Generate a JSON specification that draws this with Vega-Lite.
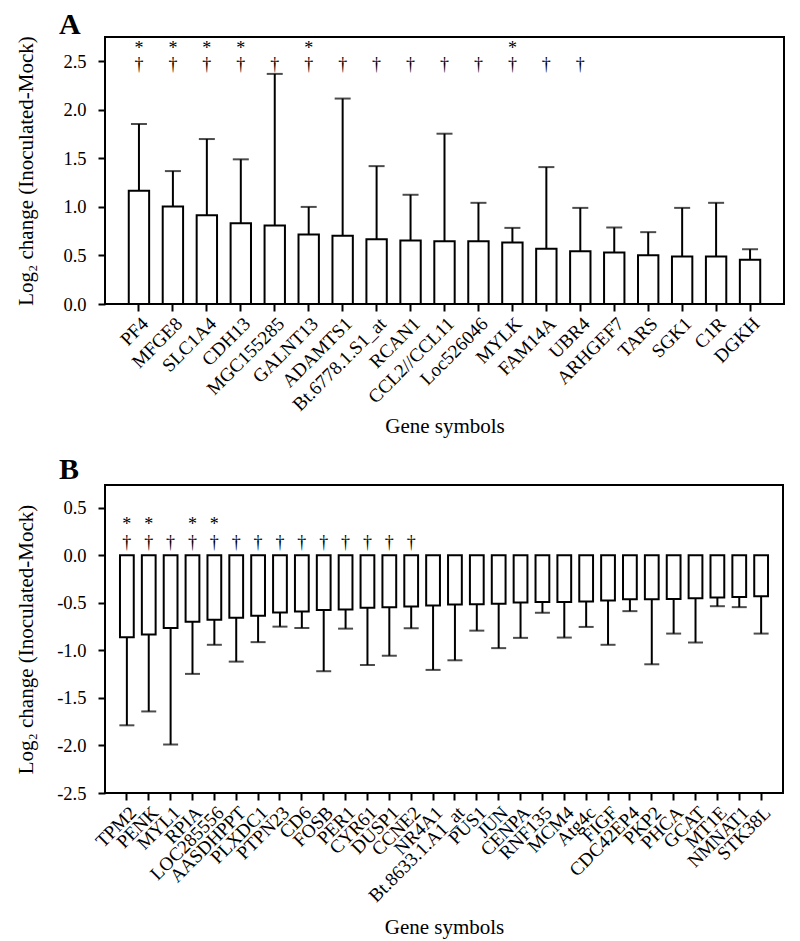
{
  "$schema": "https://vega.github.io/schema/vega-lite/v6.json",
  "background": "white",
  "padding": {"left": 14, "top": 8, "right": 5, "bottom": 5},
  "spacing": 16,
  "config": {
    "font": "Liberation Serif",
    "view": {"stroke": "black", "strokeWidth": 2},
    "axis": {"labelFont": "Liberation Serif", "titleFont": "Liberation Serif", "labelColor": "black", "titleColor": "black", "tickColor": "black", "domain": false, "grid": false, "labelFontSize": 18.5, "titleFontSize": 21, "titleFontWeight": "normal", "tickWidth": 2},
    "title": {"font": "Liberation Serif", "fontSize": 30, "fontWeight": "bold", "anchor": "start", "frame": "group", "color": "black"}
  },
  "datasets": {
    "a": [
      {"gene": "PF4", "value": 1.166, "err": 1.854, "star": true, "dagger": true},
      {"gene": "MFGE8", "value": 1.004, "err": 1.369, "star": true, "dagger": true},
      {"gene": "SLC1A4", "value": 0.915, "err": 1.699, "star": true, "dagger": true},
      {"gene": "CDH13", "value": 0.832, "err": 1.49, "star": true, "dagger": true},
      {"gene": "MGC155285", "value": 0.808, "err": 2.37, "star": false, "dagger": true},
      {"gene": "GALNT13", "value": 0.716, "err": 1.0, "star": true, "dagger": true},
      {"gene": "ADAMTS1", "value": 0.702, "err": 2.116, "star": false, "dagger": true},
      {"gene": "Bt.6778.1.S1_at", "value": 0.667, "err": 1.42, "star": false, "dagger": true},
      {"gene": "RCAN1", "value": 0.654, "err": 1.125, "star": false, "dagger": true},
      {"gene": "CCL2//CCL11", "value": 0.647, "err": 1.754, "star": false, "dagger": true},
      {"gene": "Loc526046", "value": 0.647, "err": 1.042, "star": false, "dagger": true},
      {"gene": "MYLK", "value": 0.633, "err": 0.784, "star": true, "dagger": true},
      {"gene": "FAM14A", "value": 0.568, "err": 1.41, "star": false, "dagger": true},
      {"gene": "UBR4", "value": 0.544, "err": 0.99, "star": false, "dagger": true},
      {"gene": "ARHGEF7", "value": 0.53, "err": 0.788, "star": false, "dagger": false},
      {"gene": "TARS", "value": 0.502, "err": 0.74, "star": false, "dagger": false},
      {"gene": "SGK1", "value": 0.488, "err": 0.99, "star": false, "dagger": false},
      {"gene": "C1R", "value": 0.488, "err": 1.042, "star": false, "dagger": false},
      {"gene": "DGKH", "value": 0.457, "err": 0.564, "star": false, "dagger": false}
    ],
    "b": [
      {"gene": "TPM2", "value": -0.861, "err": -1.788, "star": true, "dagger": true},
      {"gene": "PENK", "value": -0.833, "err": -1.642, "star": true, "dagger": true},
      {"gene": "MYL1", "value": -0.764, "err": -1.99, "star": false, "dagger": true},
      {"gene": "RPIA", "value": -0.698, "err": -1.247, "star": true, "dagger": true},
      {"gene": "LOC285556", "value": -0.677, "err": -0.941, "star": true, "dagger": true},
      {"gene": "AASDHPPT", "value": -0.656, "err": -1.118, "star": false, "dagger": true},
      {"gene": "PLXDC1", "value": -0.635, "err": -0.913, "star": false, "dagger": true},
      {"gene": "PTPN23", "value": -0.601, "err": -0.75, "star": false, "dagger": true},
      {"gene": "CD6", "value": -0.59, "err": -0.764, "star": false, "dagger": true},
      {"gene": "FOSB", "value": -0.576, "err": -1.219, "star": false, "dagger": true},
      {"gene": "PER1", "value": -0.569, "err": -0.771, "star": false, "dagger": true},
      {"gene": "CYR61", "value": -0.552, "err": -1.153, "star": false, "dagger": true},
      {"gene": "DUSP1", "value": -0.545, "err": -1.056, "star": false, "dagger": true},
      {"gene": "CCNE2", "value": -0.538, "err": -0.767, "star": false, "dagger": true},
      {"gene": "NR4A1", "value": -0.528, "err": -1.205, "star": false, "dagger": false},
      {"gene": "Bt.8633.1.A1_at", "value": -0.516, "err": -1.104, "star": false, "dagger": false},
      {"gene": "PUS1", "value": -0.514, "err": -0.792, "star": false, "dagger": false},
      {"gene": "JUN", "value": -0.51, "err": -0.976, "star": false, "dagger": false},
      {"gene": "CENPA", "value": -0.497, "err": -0.868, "star": false, "dagger": false},
      {"gene": "RNF135", "value": -0.49, "err": -0.604, "star": false, "dagger": false},
      {"gene": "MCM4", "value": -0.49, "err": -0.865, "star": false, "dagger": false},
      {"gene": "Atg4c", "value": -0.486, "err": -0.753, "star": false, "dagger": false},
      {"gene": "FIGF", "value": -0.476, "err": -0.941, "star": false, "dagger": false},
      {"gene": "CDC42EP4", "value": -0.462, "err": -0.587, "star": false, "dagger": false},
      {"gene": "PKP2", "value": -0.462, "err": -1.146, "star": false, "dagger": false},
      {"gene": "PHCA", "value": -0.458, "err": -0.823, "star": false, "dagger": false},
      {"gene": "GCAT", "value": -0.451, "err": -0.917, "star": false, "dagger": false},
      {"gene": "MT1E", "value": -0.444, "err": -0.535, "star": false, "dagger": false},
      {"gene": "NMNAT1", "value": -0.4375, "err": -0.545, "star": false, "dagger": false},
      {"gene": "STK38L", "value": -0.43, "err": -0.823, "star": false, "dagger": false}
    ]
  },
  "vconcat": [
    {
      "title": {"text": "A", "dx": -46, "offset": -4},
      "width": 679,
      "height": 267,
      "data": {"name": "a"},
      "encoding": {
        "x": {"field": "gene", "type": "nominal", "sort": null,
          "scale": {"paddingInner": 0.4, "paddingOuter": 0.7},
          "axis": {"title": "Gene symbols", "labelAngle": -45, "labelAlign": "right", "labelBaseline": "top", "labelFontSize": 19, "tickSize": 7, "labelPadding": 3, "titlePadding": 1}}
      },
      "layer": [
        {
          "mark": {"type": "rule", "color": "black", "strokeWidth": 2},
          "encoding": {
            "y": {"field": "value", "type": "quantitative",
              "scale": {"domain": [0, 2.75], "nice": false, "zero": true},
              "axis": {"title": "Log₂ change (Inoculated-Mock)", "values": [0, 0.5, 1, 1.5, 2, 2.5], "format": ".1f", "tickSize": 7, "labelPadding": 12, "titlePadding": 26}},
            "y2": {"field": "err"}
          }
        },
        {
          "mark": {"type": "bar", "fill": "white", "stroke": "black", "strokeWidth": 2},
          "encoding": {"y": {"field": "value", "type": "quantitative"}}
        },
        {
          "mark": {"type": "tick", "color": "black", "size": 16, "thickness": 2},
          "encoding": {"y": {"field": "err", "type": "quantitative"}}
        },
        {
          "transform": [{"filter": "datum.dagger"}],
          "mark": {"type": "text", "fontSize": 18, "baseline": "middle", "color": "black"},
          "encoding": {"y": {"datum": 2.46}, "text": {"value": "†"}}
        },
        {
          "transform": [{"filter": "datum.star"}],
          "mark": {"type": "text", "fontSize": 18, "baseline": "middle", "color": "black"},
          "encoding": {"y": {"datum": 2.63}, "text": {"value": "*"}}
        }
      ]
    },
    {
      "title": {"text": "B", "dx": -46, "offset": 0},
      "width": 678,
      "height": 308,
      "data": {"name": "b"},
      "encoding": {
        "x": {"field": "gene", "type": "nominal", "sort": null,
          "scale": {"paddingInner": 0.37, "paddingOuter": 0.685},
          "axis": {"title": "Gene symbols", "labelAngle": -45, "labelAlign": "right", "labelBaseline": "top", "labelFontSize": 19, "tickSize": 7, "labelPadding": 3, "titlePadding": 11}}
      },
      "layer": [
        {
          "mark": {"type": "rule", "color": "black", "strokeWidth": 2},
          "encoding": {
            "y": {"field": "value", "type": "quantitative",
              "scale": {"domain": [-2.5, 0.74], "nice": false, "zero": false},
              "axis": {"title": "Log₂ change (Inoculated-Mock)", "values": [-2.5, -2, -1.5, -1, -0.5, 0, 0.5], "labelExpr": "datum.value < 0 ? '-' + format(-datum.value, '.1f') : format(datum.value, '.1f')", "tickSize": 7, "labelPadding": 12, "titlePadding": 20}},
            "y2": {"field": "err"}
          }
        },
        {
          "mark": {"type": "bar", "fill": "white", "stroke": "black", "strokeWidth": 2},
          "encoding": {"y": {"field": "value", "type": "quantitative"}}
        },
        {
          "mark": {"type": "tick", "color": "black", "size": 15, "thickness": 2},
          "encoding": {"y": {"field": "err", "type": "quantitative"}}
        },
        {
          "mark": {"type": "rule", "color": "black", "strokeWidth": 2},
          "encoding": {"y": {"datum": 0}}
        },
        {
          "transform": [{"filter": "datum.dagger"}],
          "mark": {"type": "text", "fontSize": 18, "baseline": "middle", "color": "black"},
          "encoding": {"y": {"datum": 0.13}, "text": {"value": "†"}}
        },
        {
          "transform": [{"filter": "datum.star"}],
          "mark": {"type": "text", "fontSize": 18, "baseline": "middle", "color": "black"},
          "encoding": {"y": {"datum": 0.32}, "text": {"value": "*"}}
        }
      ]
    }
  ]
}
